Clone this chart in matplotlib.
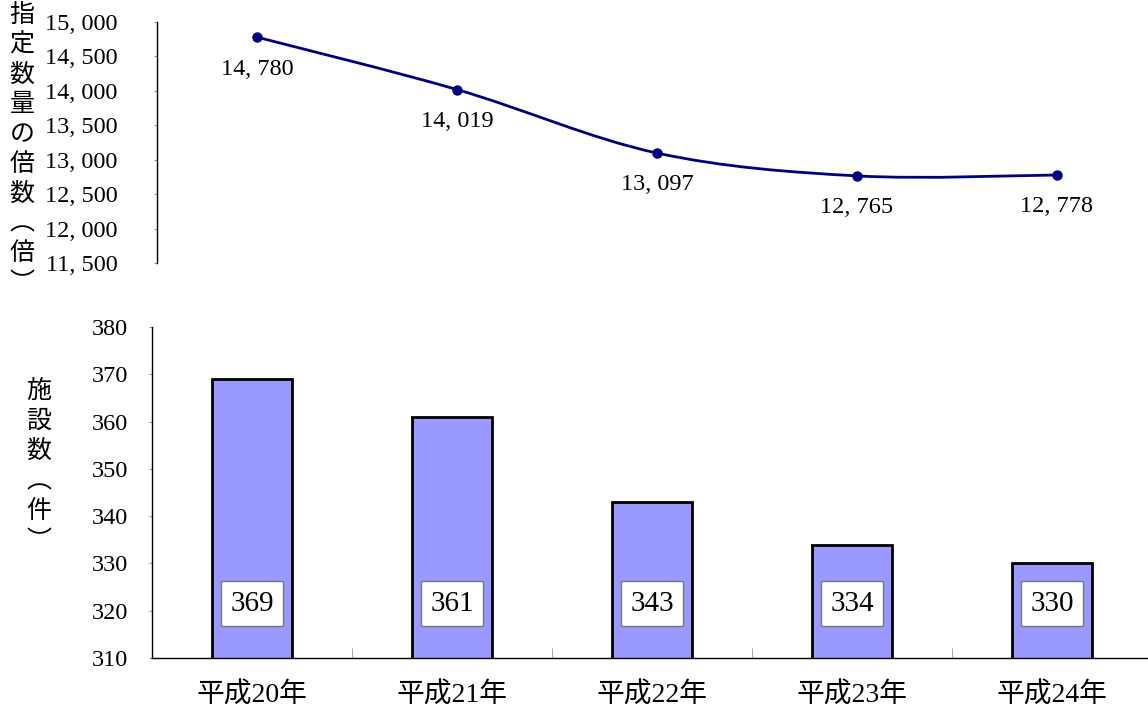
import matplotlib
matplotlib.use("Agg")
import matplotlib.pyplot as plt
from matplotlib.path import Path
from matplotlib.patches import PathPatch
import numpy as np

plt.rcParams['font.family'] = ['Liberation Serif', 'Noto Sans CJK JP']

categories = ["平成20年", "平成21年", "平成22年", "平成23年", "平成24年"]
multiples = [14780, 14019, 13097, 12765, 12778]
facilities = [369, 361, 343, 334, 330]
top_ticks = [11500, 12000, 12500, 13000, 13500, 14000, 14500, 15000]
bottom_ticks = [310, 320, 330, 340, 350, 360, 370, 380]
top_ylabel = "指定数量の倍数︵倍︶"
bottom_ylabel = "施設数︵件︶"

W, H = 1148, 712
fig = plt.figure(figsize=(W / 100, H / 100), dpi=100)

ax1 = fig.add_axes([157 / W, 1 - 263 / H, 1000 / W, (263 - 22) / H])
ax2 = fig.add_axes([152 / W, 1 - 658 / H, 1000 / W, (658 - 327) / H])

x = np.arange(len(categories))
navy = "#000080"

# ---- top: smoothed line (Catmull-Rom -> Bezier through the data points)
pts = np.column_stack([x, multiples]).astype(float)
verts = [tuple(pts[0])]
codes = [Path.MOVETO]
n = len(pts)
for i in range(n - 1):
    p0 = pts[i - 1] if i > 0 else pts[i]
    p1 = pts[i]
    p2 = pts[i + 1]
    p3 = pts[i + 2] if i + 2 < n else pts[i + 1]
    c1 = p1 + (p2 - p0) / 6.0
    c2 = p2 - (p3 - p1) / 6.0
    verts += [tuple(c1), tuple(c2), tuple(p2)]
    codes += [Path.CURVE4] * 3
ax1.add_patch(PathPatch(Path(verts, codes), fill=False, edgecolor=navy, lw=2.0))
ax1.plot(x, multiples, linestyle="none", marker="o", color=navy, markersize=6.5)

for xi, v in zip(x, multiples):
    ax1.annotate(f"{v:,}".replace(",", ", "), (xi, v), xytext=(0, -23),
                 textcoords="offset points", ha="center", va="center",
                 fontsize=17.5, color="black")

ax1.set_xlim(-0.5, 4.5)
ax1.set_ylim(11500, 15000)
ax1.set_yticks(top_ticks)
ax1.set_yticklabels([f"{t:,}".replace(",", ", ") for t in top_ticks], fontsize=17.5)
ax1.set_xticks([])
for s in ["top", "right", "bottom"]:
    ax1.spines[s].set_visible(False)
ax1.spines["left"].set_linewidth(1.0)
ax1.tick_params(axis="y", direction="out", length=2.5, color="#999999", pad=26)
ax1.patch.set_alpha(0)

# ---- bottom: bars
ax2.bar(x, facilities, width=0.4, bottom=0, color="#9999FF", edgecolor="black",
        linewidth=2.0, zorder=2)
for xi, v in zip(x, facilities):
    ax2.text(xi, 321.5, f"{v}", ha="center", va="center", fontsize=21, zorder=3,
             bbox=dict(boxstyle="square,pad=0.33", facecolor="white",
                       edgecolor="#777777", linewidth=1.0))

ax2.set_xlim(-0.5, 4.5)
ax2.set_ylim(310, 380)
ax2.set_yticks(bottom_ticks)
ax2.set_yticklabels([str(t) for t in bottom_ticks], fontsize=17.5)
ax2.set_xticks(x)
ax2.set_xticklabels(categories, fontsize=20)
ax2.set_xticks(np.arange(0.5, 4.0, 1.0), minor=True)
ax2.tick_params(axis="x", which="major", length=0, pad=18)
ax2.tick_params(axis="x", which="minor", direction="in", length=7, color="#999999")
ax2.tick_params(axis="y", direction="out", length=2.5, color="#999999", pad=15)
for s in ["top", "right"]:
    ax2.spines[s].set_visible(False)
ax2.spines["left"].set_linewidth(1.0)
ax2.spines["bottom"].set_linewidth(1.0)
ax2.patch.set_alpha(0)

# vertical y labels (stacked characters)
fig.text(22 / W, 1 - 149 / H, "\n".join(top_ylabel), ha="center", va="center",
         fontsize=18, linespacing=1.19, family=['Noto Sans CJK JP'])
fig.text(39 / W, 1 - 466 / H, "\n".join(bottom_ylabel), ha="center", va="center",
         fontsize=18, linespacing=1.2, family=['Noto Sans CJK JP'])

fig.savefig("out.png", dpi=100)
